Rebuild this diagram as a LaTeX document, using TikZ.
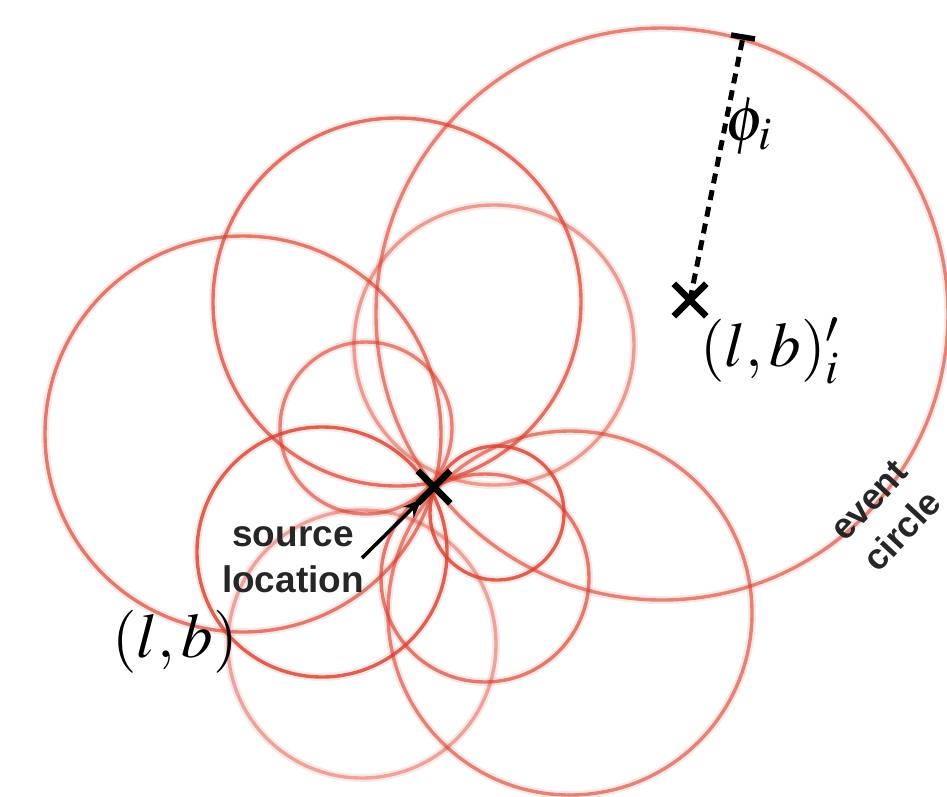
\documentclass[tikz,border=0pt]{standalone}
\usepackage[no-math]{fontspec}
\usepackage{mathptmx}
\setmainfont{Liberation Serif}
\newfontfamily\labelfont{Liberation Sans}
\usetikzlibrary{arrows.meta,shapes.misc}
\definecolor{ringred}{RGB}{214,62,45}
\begin{document}
\begin{tikzpicture}[x=1pt,y=-1pt,
  halo/.style={draw=ringred, line width=8pt, draw opacity=0.12},
  ring/.style={draw=ringred, line width=3.4pt, draw opacity=#1},
  xmark/.style={cross out, draw=black, line width=6.5pt, minimum size=26pt, inner sep=0pt},
  mathlbl/.style={font=\fontsize{63}{70}\selectfont, inner sep=0pt},
  sanslbl/.style={font=\labelfont\bfseries\fontsize{37}{46}\selectfont, align=center, inner sep=0pt, text=black!85}]
\useasboundingbox (0,0) rectangle (947,796);
% event circles, all passing (nearly) through the source location
\foreach \cx/\cy/\r/\o in {662/314/286/0.6, 243/434/198/0.65, 397/302/184/0.7,
  497/513/67/0.8, 494/345/140/0.45, 570/613/182/0.6, 485/578/104/0.65,
  362/644/134/0.4, 322/552/125/0.8, 366/428/86/0.6}{
  \draw[halo] (\cx,\cy) circle[radius=\r pt];
  \draw[ring=\o] (\cx,\cy) circle[radius=\r pt];
}
% markers
\node[xmark] (src) at (434,487) {};
\node[xmark] (cen) at (690,300) {};
% radius phi_i
\coordinate (rimpt) at (743,37);
\coordinate (tickA) at (731,35);
\coordinate (tickB) at (755,39);
\draw[line width=5pt, dash pattern=on 10pt off 7pt] (cen.center) -- (rimpt);
\draw[line width=5.5pt] (tickA) -- (tickB);
% labels
\node[mathlbl, anchor=base west] (philbl) at (725,140) {$\phi_i$};
\node[mathlbl, anchor=base west] (cenlbl) at (700,366) {$(l,b)'_i$};
\node[mathlbl, anchor=base west] (srclbl) at (112,657) {$(l,b)$};
\node[sanslbl] (srctxt) at (293,560) {source\\location};
\node[sanslbl, font=\labelfont\bfseries\fontsize{36}{45}\selectfont, rotate=47] (evtxt) at (886,516) {event\\circle};
% arrow to source
\coordinate (arrtail) at (362,558);
\draw[-{Stealth[length=19pt,width=15pt]}, line width=3.6pt, shorten >=17pt] (arrtail) -- (src.center);
\end{tikzpicture}
\end{document}
